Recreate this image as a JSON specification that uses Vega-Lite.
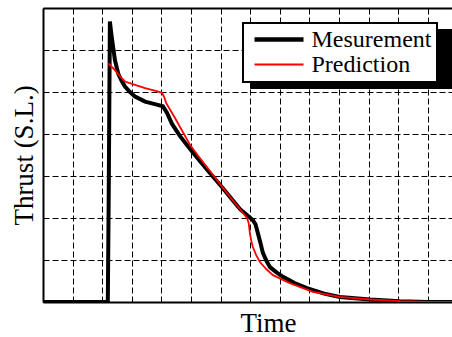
{
  "$schema": "https://vega.github.io/schema/vega-lite/v6.json",
  "width": 409,
  "height": 294,
  "autosize": {"type": "none"},
  "padding": {"left": 43, "top": 8, "right": 0, "bottom": 35},
  "background": "white",
  "config": {"view": {"stroke": null}, "font": "Liberation Serif"},
  "data": {
    "values": [
      {"t": 0, "thrust": 0, "series": "Mesurement"},
      {"t": 1, "thrust": 0, "series": "Mesurement"},
      {"t": 2.16, "thrust": 0, "series": "Mesurement"},
      {"t": 2.19, "thrust": 0.02, "series": "Mesurement"},
      {"t": 2.22, "thrust": 2.5, "series": "Mesurement"},
      {"t": 2.26, "thrust": 6.68, "series": "Mesurement"},
      {"t": 2.32, "thrust": 6.32, "series": "Mesurement"},
      {"t": 2.43, "thrust": 5.76, "series": "Mesurement"},
      {"t": 2.54, "thrust": 5.44, "series": "Mesurement"},
      {"t": 2.66, "thrust": 5.26, "series": "Mesurement"},
      {"t": 2.77, "thrust": 5.13, "series": "Mesurement"},
      {"t": 2.94, "thrust": 5.0, "series": "Mesurement"},
      {"t": 3.11, "thrust": 4.89, "series": "Mesurement"},
      {"t": 3.45, "thrust": 4.77, "series": "Mesurement"},
      {"t": 3.78, "thrust": 4.71, "series": "Mesurement"},
      {"t": 4.05, "thrust": 4.66, "series": "Mesurement"},
      {"t": 4.19, "thrust": 4.5, "series": "Mesurement"},
      {"t": 4.36, "thrust": 4.24, "series": "Mesurement"},
      {"t": 4.63, "thrust": 3.95, "series": "Mesurement"},
      {"t": 4.97, "thrust": 3.64, "series": "Mesurement"},
      {"t": 5.3, "thrust": 3.36, "series": "Mesurement"},
      {"t": 5.64, "thrust": 3.07, "series": "Mesurement"},
      {"t": 5.98, "thrust": 2.79, "series": "Mesurement"},
      {"t": 6.32, "thrust": 2.5, "series": "Mesurement"},
      {"t": 6.66, "thrust": 2.21, "series": "Mesurement"},
      {"t": 6.89, "thrust": 2.07, "series": "Mesurement"},
      {"t": 7.09, "thrust": 1.95, "series": "Mesurement"},
      {"t": 7.18, "thrust": 1.85, "series": "Mesurement"},
      {"t": 7.26, "thrust": 1.64, "series": "Mesurement"},
      {"t": 7.35, "thrust": 1.4, "series": "Mesurement"},
      {"t": 7.43, "thrust": 1.17, "series": "Mesurement"},
      {"t": 7.55, "thrust": 0.98, "series": "Mesurement"},
      {"t": 7.67, "thrust": 0.83, "series": "Mesurement"},
      {"t": 7.9, "thrust": 0.7, "series": "Mesurement"},
      {"t": 8.11, "thrust": 0.6, "series": "Mesurement"},
      {"t": 8.5, "thrust": 0.45, "series": "Mesurement"},
      {"t": 8.92, "thrust": 0.33, "series": "Mesurement"},
      {"t": 9.5, "thrust": 0.2, "series": "Mesurement"},
      {"t": 10.03, "thrust": 0.12, "series": "Mesurement"},
      {"t": 11.05, "thrust": 0.06, "series": "Mesurement"},
      {"t": 12.06, "thrust": 0.02, "series": "Mesurement"},
      {"t": 13.0, "thrust": 0.0, "series": "Mesurement"},
      {"t": 13.82, "thrust": 0.0, "series": "Mesurement"},
      {"t": 2.21, "thrust": 5.68, "series": "Prediction"},
      {"t": 2.43, "thrust": 5.52, "series": "Prediction"},
      {"t": 2.55, "thrust": 5.42, "series": "Prediction"},
      {"t": 2.66, "thrust": 5.33, "series": "Prediction"},
      {"t": 2.77, "thrust": 5.25, "series": "Prediction"},
      {"t": 3.11, "thrust": 5.17, "series": "Prediction"},
      {"t": 3.45, "thrust": 5.09, "series": "Prediction"},
      {"t": 3.84, "thrust": 5.02, "series": "Prediction"},
      {"t": 4.02, "thrust": 4.98, "series": "Prediction"},
      {"t": 4.1, "thrust": 4.87, "series": "Prediction"},
      {"t": 4.16, "thrust": 4.74, "series": "Prediction"},
      {"t": 4.46, "thrust": 4.38, "series": "Prediction"},
      {"t": 4.97, "thrust": 3.74, "series": "Prediction"},
      {"t": 5.3, "thrust": 3.43, "series": "Prediction"},
      {"t": 5.64, "thrust": 3.12, "series": "Prediction"},
      {"t": 5.98, "thrust": 2.81, "series": "Prediction"},
      {"t": 6.32, "thrust": 2.5, "series": "Prediction"},
      {"t": 6.76, "thrust": 2.12, "series": "Prediction"},
      {"t": 6.89, "thrust": 2.0, "series": "Prediction"},
      {"t": 6.95, "thrust": 1.88, "series": "Prediction"},
      {"t": 6.99, "thrust": 1.64, "series": "Prediction"},
      {"t": 7.04, "thrust": 1.45, "series": "Prediction"},
      {"t": 7.09, "thrust": 1.31, "series": "Prediction"},
      {"t": 7.2, "thrust": 1.12, "series": "Prediction"},
      {"t": 7.33, "thrust": 0.95, "series": "Prediction"},
      {"t": 7.55, "thrust": 0.78, "series": "Prediction"},
      {"t": 7.77, "thrust": 0.64, "series": "Prediction"},
      {"t": 8.34, "thrust": 0.45, "series": "Prediction"},
      {"t": 9.12, "thrust": 0.24, "series": "Prediction"},
      {"t": 10.03, "thrust": 0.12, "series": "Prediction"},
      {"t": 11.05, "thrust": 0.06, "series": "Prediction"},
      {"t": 12.06, "thrust": 0.02, "series": "Prediction"},
      {"t": 13.0, "thrust": 0.0, "series": "Prediction"},
      {"t": 13.82, "thrust": 0.0, "series": "Prediction"}
    ]
  },
  "mark": {"type": "line", "clip": true},
  "encoding": {
    "x": {
      "field": "t",
      "type": "quantitative",
      "scale": {"domain": [0, 13.82], "nice": false, "zero": false},
      "axis": {
        "values": [0, 1, 2, 3, 4, 5, 6, 7, 8, 9, 10, 11, 12, 13],
        "labels": false,
        "ticks": false,
        "domainColor": "black",
        "domainWidth": 2,
        "grid": true,
        "gridColor": "black",
        "gridOpacity": 1,
        "gridWidth": 1,
        "gridDash": [6, 3],
        "title": "Time",
        "titleFont": "Liberation Serif",
        "titleFontSize": 27,
        "titleFontWeight": "normal",
        "titleColor": "black",
        "titlePadding": 8,
        "titleX": 225
      }
    },
    "y": {
      "field": "thrust",
      "type": "quantitative",
      "scale": {"domain": [0, 7], "nice": false, "zero": false},
      "axis": {
        "values": [0, 1, 2, 3, 4, 5, 6, 7],
        "labels": false,
        "ticks": false,
        "domainColor": "black",
        "domainWidth": 2,
        "grid": true,
        "gridColor": "black",
        "gridOpacity": 1,
        "gridWidth": {"condition": {"test": "datum.value === 7", "value": 2}, "value": 1},
        "gridDash": {"condition": {"test": "datum.value === 7", "value": []}, "value": [6, 3]},
        "title": "Thrust (S.L.)",
        "titleFont": "Liberation Serif",
        "titleFontSize": 27,
        "titleFontWeight": "normal",
        "titleColor": "black",
        "titlePadding": 5
      }
    },
    "color": {
      "field": "series",
      "type": "nominal",
      "scale": {"domain": ["Mesurement", "Prediction"], "range": ["black", "red"]},
      "legend": {
        "title": null,
        "orient": "none",
        "legendX": 200,
        "legendY": 15,
        "zindex": 2,
        "symbolType": "stroke",
        "symbolSize": 2401,
        "clipHeight": 23,
        "labelFont": "Liberation Serif",
        "labelFontSize": 24,
        "labelColor": "black",
        "labelOffset": 7,
        "padding": 5,
        "symbolOffset": 5.5,
        "rowPadding": 0,
        "fillColor": "white",
        "strokeColor": "black",
        "encode": {
          "symbols": {"update": {"strokeWidth": {"signal": "(datum.value === 'Mesurement' ? 4.5 : 2)"}}},
          "legend": {"update": {"strokeWidth": {"value": 2}}}
        }
      }
    },
    "opacity": {
      "field": "series",
      "type": "ordinal",
      "scale": {"domain": ["Prediction", "Mesurement"], "range": [1, 1]},
      "legend": {
        "title": null,
        "orient": "none",
        "legendX": 207,
        "legendY": 21,
        "zindex": 1,
        "symbolType": "stroke",
        "symbolSize": 2401,
        "clipHeight": 23,
        "labelFont": "Liberation Serif",
        "labelFontSize": 24,
        "labelOffset": 10,
        "labelOpacity": 0,
        "symbolOpacity": 0,
        "padding": 5,
        "symbolOffset": 11,
        "rowPadding": 0,
        "fillColor": "black",
        "strokeColor": "black"
      }
    },
    "strokeWidth": {"condition": {"test": "datum.series === 'Mesurement'", "value": 4}, "value": 1.8}
  }
}
